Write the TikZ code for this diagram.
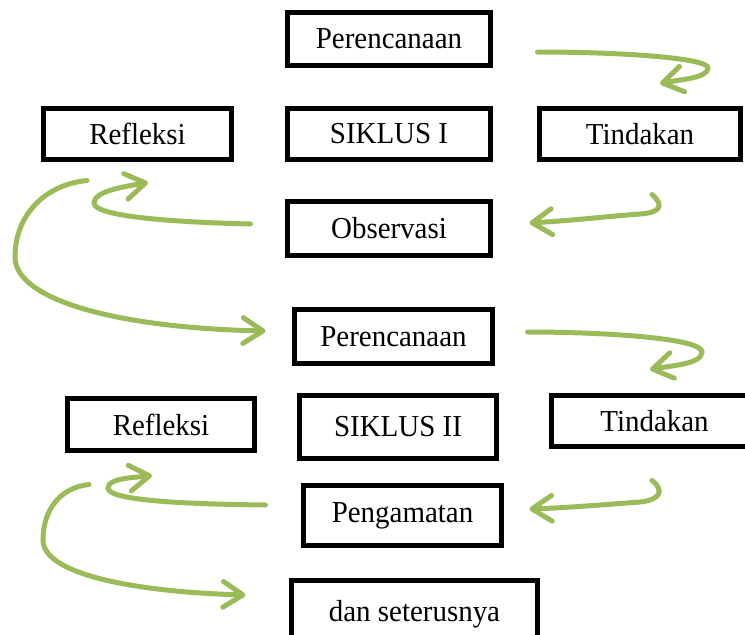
\documentclass[tikz,border=0pt]{standalone}
\usepackage{fontspec}
\setmainfont{Liberation Serif}[FakeStretch=0.95]
\usetikzlibrary{arrows.meta}
\definecolor{hijau}{RGB}{155,187,89}
\begin{document}
\begin{tikzpicture}[x = 0.03cm,y = -0.03cm,
	kotak/.style = {draw,line width = 0.15cm,inner sep = 2pt,font = \fontsize{26}{30}\selectfont},
	panah/.style = {draw = hijau,line width = 0.15cm,line cap = round,-{Straight Barb[length = 17pt,width = 22pt,round]}}]
	\useasboundingbox (0,0) rectangle (745,635);
	\clip (0,0) rectangle (745,635);
	\node[kotak,minimum width = 6.09cm,minimum height = 1.59cm] (per1) at (389,39) {Perencanaan};
	\node[kotak,minimum width = 5.64cm,minimum height = 1.53cm] (ref1) at (137.5,134) {Refleksi};
	\node[kotak,minimum width = 6.09cm,minimum height = 1.53cm] (sik1) at (389,134) {SIKLUS I};
	\node[kotak,minimum width = 6.03cm,minimum height = 1.53cm] (tin1) at (640,134) {Tindakan};
	\node[kotak,minimum width = 6.09cm,minimum height = 1.62cm] (obs) at (389,228.5) {Observasi};
	\node[kotak,minimum width = 5.94cm,minimum height = 1.62cm] (per2) at (393.5,336.5) {Perencanaan};
	\node[kotak,minimum width = 5.61cm,minimum height = 1.56cm] (ref2) at (161,424.5) {Refleksi};
	\node[kotak,minimum width = 5.91cm,minimum height = 1.89cm] (sik2) at (398,427) {SIKLUS II};
	\node[kotak,minimum width = 6.18cm,minimum height = 1.53cm] (tin2) at (654.5,421) {Tindakan};
	\node[kotak,minimum width = 5.94cm,minimum height = 1.80cm] (pen) at (402.5,515.5) {Pengamatan};
	\node[kotak,minimum width = 7.38cm,minimum height = 2.01cm] (dan) at (414.5,614) {dan seterusnya};
	\draw[panah] ([shift={(44.5,13)}]per1.east) .. controls +(85,0) and +(0,-10) .. (708,68) .. controls +(0,10) and +(20,-4) .. ([shift={(20,-22.5)}]tin1.north);
	\draw[panah] ([shift={(12,32.5)}]tin1.south) .. controls +(14,12) and +(18,-1) .. (640,214) .. controls +(-40,3) and +(50,-3) .. ([shift={(36.5,-5.5)}]obs.east);
	\draw[panah] ([shift={(-34.5,-4.5)}]obs.west) .. controls +(-83,-2) and +(0,13) .. (94,203) .. controls +(0,-12) and +(-23,4) .. ([shift={(10.5,20.5)}]ref1.south);
	\draw[panah] ([shift={(-50.5,18.5)}]ref1.south) .. controls +(-42,4) and +(0,-42) .. (15,257) .. controls +(0,43) and +(-148,-3) .. ([shift={(-26.5,-5.5)}]per2.west);
	\draw[panah] ([shift={(32.5,-4.5)}]per2.east) .. controls +(75,0) and +(0,-14) .. (702,352) .. controls +(0,12) and +(22,-4) .. ([shift={(-4.5,-23.5)}]tin2.north);
	\draw[panah] ([shift={(-2.5,31.5)}]tin2.south) .. controls +(13,10) and +(20,-2) .. (640,502) .. controls +(-40,3) and +(33,-1) .. ([shift={(25.5,-6.5)}]pen.east);
	\draw[panah] ([shift={(-35.5,-10.5)}]pen.west) .. controls +(-88,-1) and +(0,12) .. (108,488) .. controls +(0,-10) and +(-17,2) .. ([shift={(-9,22.5)}]ref2.south);
	\draw[panah] ([shift={(-72,31.5)}]ref2.south) .. controls +(-29,3) and +(0,-30) .. (43,540) .. controls +(0,35) and +(-108,-3) .. ([shift={(-43.5,-19)}]dan.west);
\end{tikzpicture}
\end{document}
